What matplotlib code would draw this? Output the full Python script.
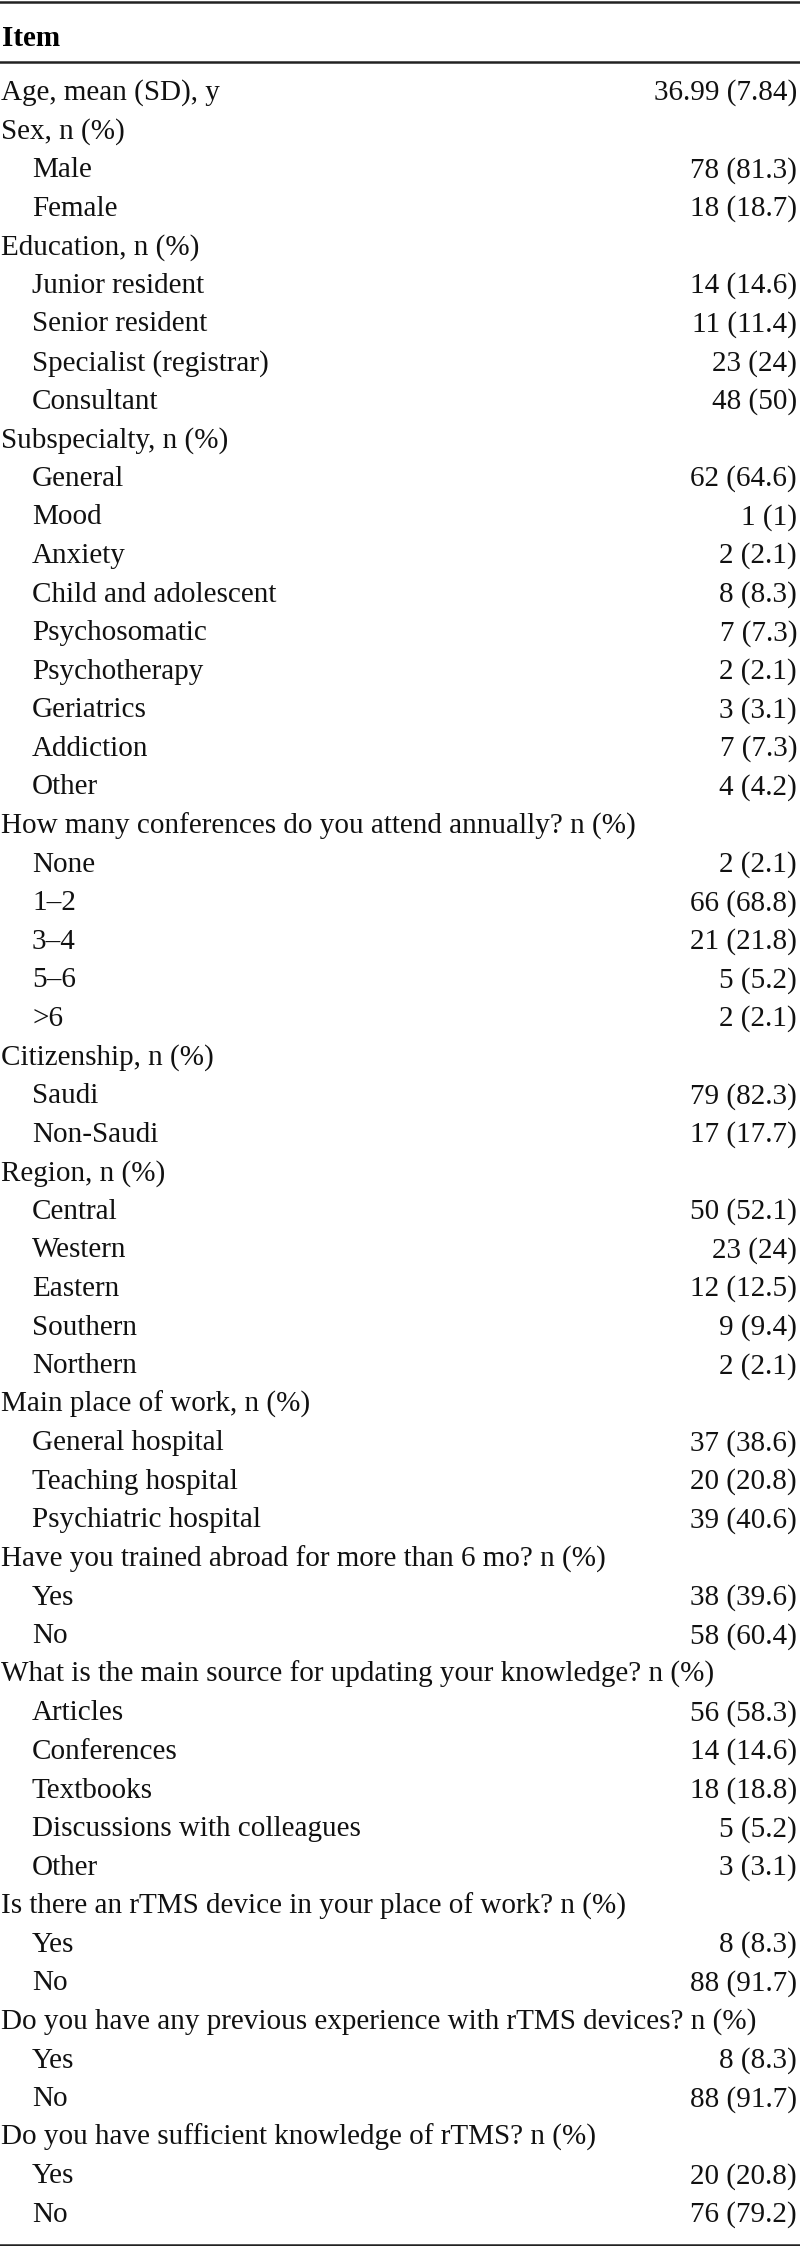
import matplotlib
matplotlib.use("Agg")
import matplotlib.pyplot as plt

plt.rcParams['font.family'] = ['Liberation Serif', 'DejaVu Serif']

header = 'Item'

# section titles, the value on the title row (if any), sub-items and their values
sections = [
    'Age, mean (SD), y',
    'Sex, n (%)',
    'Education, n (%)',
    'Subspecialty, n (%)',
    'How many conferences do you attend annually? n (%)',
    'Citizenship, n (%)',
    'Region, n (%)',
    'Main place of work, n (%)',
    'Have you trained abroad for more than 6 mo? n (%)',
    'What is the main source for updating your knowledge? n (%)',
    'Is there an rTMS device in your place of work? n (%)',
    'Do you have any previous experience with rTMS devices? n (%)',
    'Do you have sufficient knowledge of rTMS? n (%)',
]
section_values = ['36.99 (7.84)', '', '', '', '', '', '', '', '', '', '', '', '']
items = [
    [],
    ['Male', 'Female'],
    ['Junior resident', 'Senior resident', 'Specialist (registrar)', 'Consultant'],
    ['General', 'Mood', 'Anxiety', 'Child and adolescent', 'Psychosomatic',
     'Psychotherapy', 'Geriatrics', 'Addiction', 'Other'],
    ['None', '1\u20132', '3\u20134', '5\u20136', '>6'],
    ['Saudi', 'Non-Saudi'],
    ['Central', 'Western', 'Eastern', 'Southern', 'Northern'],
    ['General hospital', 'Teaching hospital', 'Psychiatric hospital'],
    ['Yes', 'No'],
    ['Articles', 'Conferences', 'Textbooks', 'Discussions with colleagues', 'Other'],
    ['Yes', 'No'],
    ['Yes', 'No'],
    ['Yes', 'No'],
]
values = [
    [],
    ['78 (81.3)', '18 (18.7)'],
    ['14 (14.6)', '11 (11.4)', '23 (24)', '48 (50)'],
    ['62 (64.6)', '1 (1)', '2 (2.1)', '8 (8.3)', '7 (7.3)', '2 (2.1)', '3 (3.1)',
     '7 (7.3)', '4 (4.2)'],
    ['2 (2.1)', '66 (68.8)', '21 (21.8)', '5 (5.2)', '2 (2.1)'],
    ['79 (82.3)', '17 (17.7)'],
    ['50 (52.1)', '23 (24)', '12 (12.5)', '9 (9.4)', '2 (2.1)'],
    ['37 (38.6)', '20 (20.8)', '39 (40.6)'],
    ['38 (39.6)', '58 (60.4)'],
    ['56 (58.3)', '14 (14.6)', '18 (18.8)', '5 (5.2)', '3 (3.1)'],
    ['8 (8.3)', '88 (91.7)'],
    ['8 (8.3)', '88 (91.7)'],
    ['20 (20.8)', '76 (79.2)'],
]

# flatten into table rows
rows = []
for title, tval, subs, subvals in zip(sections, section_values, items, values):
    rows.append((title, tval, False))
    for s, v in zip(subs, subvals):
        rows.append((s, v, True))

W, H = 800, 2246
fig = plt.figure(figsize=(W / 100, H / 100), dpi=100)
ax = fig.add_axes([0, 0, 1, 1])
ax.set_xlim(0, W)
ax.set_ylim(H, 0)
ax.axis('off')

fs = 21
y0 = 93
step = 38.58

ax.axhline(1.5, color='#222222', lw=1.8)
ax.text(2, 38, header, fontsize=fs, fontweight='bold', va='center', ha='left')
ax.axhline(61.5, color='#222222', lw=1.8)

for i, (label, val, indent) in enumerate(rows):
    y = y0 + i * step
    ax.text(32 if indent else 1, y, label, fontsize=fs, va='center', ha='left',
            color='#111111')
    if val:
        ax.text(797, y, val, fontsize=fs, va='center', ha='right', color='#111111')

ax.axhline(2244.5, color='#222222', lw=1.8)

fig.savefig('out.png', dpi=100)
